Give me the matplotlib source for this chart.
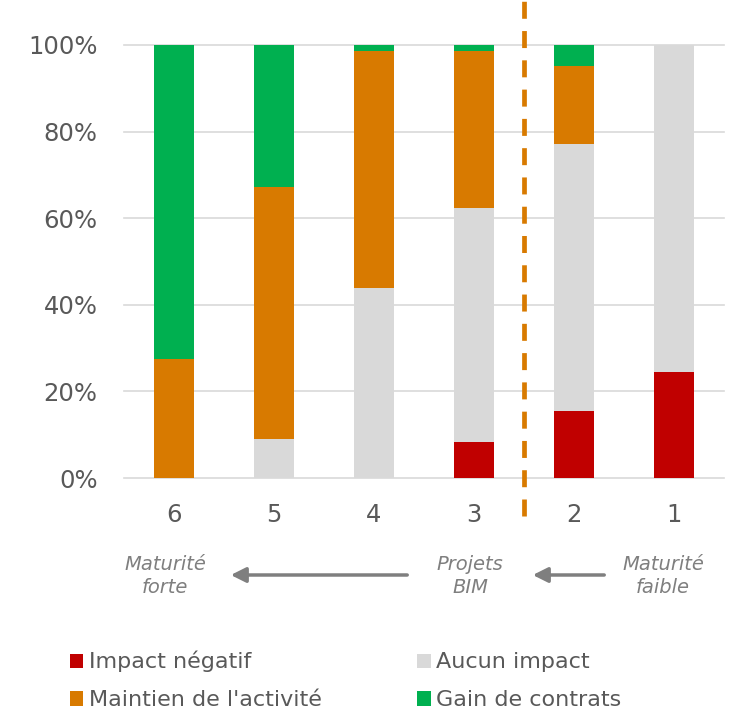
import matplotlib
matplotlib.use("Agg")
import matplotlib.pyplot as plt
import numpy as np
from matplotlib.patches import Patch

# BIM maturity levels, from strongest (6) to weakest (1)
levels = ["6", "5", "4", "3", "2", "1"]

# share of answers per impact category (%)
impact_negatif = [0.0, 0.0, 0.0, 8.3, 15.5, 24.5]
aucun_impact = [0.0, 9.0, 43.9, 54.1, 61.6, 75.5]
maintien = [27.5, 58.2, 54.7, 36.2, 18.1, 0.0]
gain_contrats = [72.5, 32.8, 1.4, 1.4, 4.8, 0.0]

series = [
    ("Impact négatif", impact_negatif, "#C00000"),
    ("Aucun impact", aucun_impact, "#D9D9D9"),
    ("Maintien de l'activité", maintien, "#D87A00"),
    ("Gain de contrats", gain_contrats, "#00B050"),
]

TXT = "#595959"

fig = plt.figure(figsize=(7.29, 7.11), dpi=100)
ax = fig.add_axes([124 / 729, 1 - 478 / 711, 600 / 729, 433 / 711])

x = np.arange(len(levels))
bottom = np.zeros(len(levels))
handles = {}
for name, vals, col in series:
    vals = np.array(vals)
    ax.bar(x, vals, width=0.4, bottom=bottom, color=col, zorder=3)
    bottom += vals
    handles[name] = Patch(facecolor=col, edgecolor="none")

ax.set_xlim(-0.5, len(levels) - 0.5)
ax.set_ylim(0, 100)
ax.set_yticks(np.arange(0, 101, 20))
ax.set_yticklabels([f"{v}%" for v in range(0, 101, 20)])
ax.set_xticks(x)
ax.set_xticklabels(levels)
ax.tick_params(length=0, labelsize=17.5, labelcolor=TXT)
ax.tick_params(axis="x", pad=18)
ax.tick_params(axis="y", pad=19)
ax.grid(axis="y", color="#D9D9D9", lw=1.2, zorder=0)
for gl in ax.get_ygridlines():
    gl.set_clip_on(False)
for s in ax.spines.values():
    s.set_visible(False)

# separator between BIM project levels (3 and above) and low-maturity levels
ax.plot([3.5, 3.5], [-8.7, 110.2], ls=(0, (3.6, 2.6)), color="#D87A00", lw=3.4,
        clip_on=False, zorder=4)

# maturity direction annotations
ann = dict(ha="center", va="center", fontsize=14, style="italic", color="#7F7F7F",
           linespacing=1.3)
fig.text(165 / 729, 1 - 576 / 711, "Maturité\nforte", **ann)
fig.text(470 / 729, 1 - 576 / 711, "Projets\nBIM", **ann)
fig.text(663 / 729, 1 - 576 / 711, "Maturité\nfaible", **ann)
arrow = dict(arrowstyle="-|>,head_length=0.9,head_width=0.45", color="#7F7F7F", lw=2.5)
ax.annotate("", xy=(228 / 729, 1 - 575 / 711), xytext=(410 / 729, 1 - 575 / 711),
            xycoords="figure fraction", textcoords="figure fraction", arrowprops=arrow)
ax.annotate("", xy=(530 / 729, 1 - 575 / 711), xytext=(607 / 729, 1 - 575 / 711),
            xycoords="figure fraction", textcoords="figure fraction", arrowprops=arrow)

order = ["Impact négatif", "Maintien de l'activité", "Aucun impact", "Gain de contrats"]
leg = fig.legend([handles[n] for n in order], order, ncol=2, frameon=False,
                 loc="upper left", bbox_to_anchor=(50 / 729, 1 - 631 / 711),
                 fontsize=16, handlelength=0.6, handleheight=0.6, handletextpad=0.25,
                 columnspacing=4.3, labelspacing=0.8, labelcolor=TXT)

fig.savefig("out.png", dpi=100)
